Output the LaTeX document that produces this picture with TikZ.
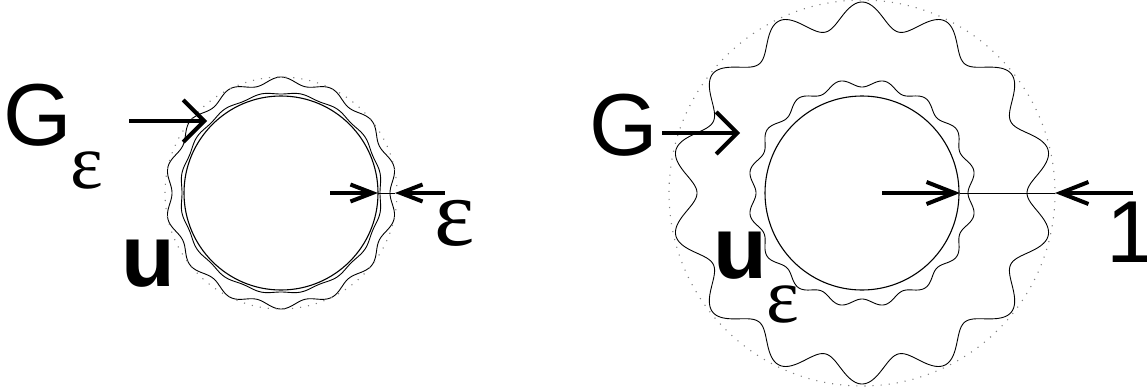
\documentclass[tikz,border=0pt]{standalone}
\usepackage{fontspec}
\setmainfont{Liberation Sans}
\newfontfamily\grfont{Liberation Serif}
\usetikzlibrary{arrows.meta}
\begin{document}
\begin{tikzpicture}[x=1pt,y=-1pt,
  lbl/.style={inner sep=0pt,anchor=base west,font=\fontsize{88}{88}\selectfont},
  blbl/.style={lbl,font=\fontsize{88}{88}\selectfont\bfseries},
  eps/.style={inner sep=0pt,anchor=base west,font=\fontsize{78}{78}\selectfont\grfont},
  bigeps/.style={inner sep=0pt,anchor=base west,font=\fontsize{96}{96}\selectfont\grfont},
  ring/.style={circle,draw,line width=1.1pt,inner sep=0pt},
  wavy/.style={line width=0.9pt},
  dotring/.style={draw=gray,line width=1.1pt,dash pattern=on 1.1pt off 7pt},
  bigarrow/.style={line width=4pt,-{Straight Barb[length=21pt,width=42pt]}},
  smallarrow/.style={line width=4pt,-{Straight Barb[length=22pt,width=17pt]}},
  smallarrowb/.style={line width=4pt,-{Straight Barb[length=28pt,width=22pt]}},
  thin/.style={line width=0.9pt}]
\useasboundingbox (0,0) rectangle (1147,391);

% ---------- left figure ----------
\node[ring,minimum size=194pt] (cl) at (281,193) {};
\draw[wavy] plot[domain=0:360,samples=721,variable=\t]
  ({281+(100-1*cos(16*\t))*cos(\t)},{193+(100-1*cos(16*\t))*sin(\t)});
\draw[wavy] plot[domain=0:360,samples=721,variable=\t]
  ({281+(112.5+3.5*cos(14*(\t-90)))*cos(\t)},{193+(112.5+3.5*cos(14*(\t-90)))*sin(\t)});
\draw[dotring] (281,193) circle[radius=116];

\node[lbl] (Gl) at (3,145) {G};
\node[eps] (el) at (70,188) {ε};
\node[blbl] (ul) at (121,286) {u};
\node[bigeps] (er) at (434,245) {ε};

\coordinate (a1s) at (129,121);
\coordinate (a1e) at (207,121);
\draw[bigarrow] (a1s) -- (a1e);

\coordinate (e1s) at (330,193);
\coordinate (e1e) at (378,193);
\coordinate (e2s) at (445,193);
\coordinate (e2e) at (395,193);
\draw[smallarrow] (e1s) -- (e1e);
\draw[smallarrow] (e2s) -- (e2e);
\draw[thin] (e1e) -- (e2e);

% ---------- right figure ----------
\node[ring,minimum size=194pt] (cr) at (862,193) {};
\draw[wavy] plot[domain=0:360,samples=721,variable=\t]
  ({862+(110-4*cos(16*\t))*cos(\t)},{193+(110-4*cos(16*\t))*sin(\t)});
\draw[wavy] plot[domain=0:360,samples=721,variable=\t]
  ({862+(178+13*cos(14*(\t-90)))*cos(\t)},{193+(178+13*cos(14*(\t-90)))*sin(\t)});
\draw[dotring] (862,193) circle[radius=193];

\node[lbl] (Gr) at (589,155) {G};
\node[blbl] (ur) at (713,278) {u};
\node[eps] (es) at (766,322) {ε};
\node[lbl] (one) at (1106,262) {\makebox[33pt][l]{1}};

\coordinate (a2s) at (662,133);
\coordinate (a2e) at (740,133);
\draw[bigarrow] (a2s) -- (a2e);

\coordinate (r1s) at (882,193);
\coordinate (r1e) at (960,193);
\coordinate (r2s) at (1133,193);
\coordinate (r2e) at (1055,193);
\draw[smallarrowb] (r1s) -- (r1e);
\draw[smallarrowb] (r2s) -- (r2e);
\draw[thin] (r1e) -- (r2e);
\end{tikzpicture}
\end{document}
